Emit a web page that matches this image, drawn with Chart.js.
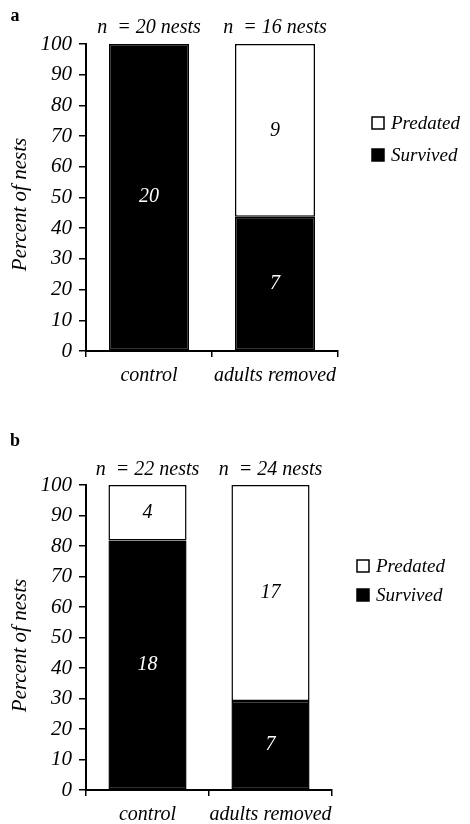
<!DOCTYPE html>
<html>
<head>
<meta charset="utf-8">
<script src="https://cdn.jsdelivr.net/npm/chart.js@4.4.1/dist/chart.umd.min.js"></script>
<style>
    html, body { margin: 0; padding: 0; background: #fff; }
    body { width: 470px; height: 824px; position: relative; overflow: hidden; }
    .panel { position: absolute; left: 0; width: 470px; }
    #panelA { top: 0; height: 400px; }
    #panelB { top: 420px; height: 404px; }
</style>
</head>
<body>
<div class="panel" id="panelA"><canvas id="chartA"></canvas></div>
<div class="panel" id="panelB"><canvas id="chartB"></canvas></div>
<script>
// data: nest counts per treatment
const categories = ['control', 'adults removed'];
const survivedA = [20, 7];
const predatedA = [0, 9];
const survivedB = [18, 7];
const predatedB = [4, 17];
const yTickLabels = [0, 10, 20, 30, 40, 50, 60, 70, 80, 90, 100];
const seriesNames = ['Survived', 'Predated'];

const SERIF = '"Liberation Serif", "DejaVu Serif", serif';

// counts -> percent of nests in each treatment
function toPercent(counts, other) {
    return counts.map((v, i) => v / (v + other[i]) * 100);
}

// panel letter, y title, n = ..., counts inside bars, legend
const panelDecor = {
    id: 'panelDecor',
    afterDraw(chart, args, opts) {
        const ctx = chart.ctx;
        const area = chart.chartArea;
        ctx.save();
        ctx.fillStyle = '#000';

        ctx.font = 'bold 18px ' + SERIF;
        ctx.textAlign = 'center';
        ctx.textBaseline = 'middle';
        ctx.fillText(opts.letter, opts.letterX, opts.letterY);

        // y axis title
        ctx.font = 'italic 21px ' + SERIF;
        ctx.save();
        ctx.translate(opts.titleX, (area.top + area.bottom) / 2 + opts.titleShift);
        ctx.rotate(-Math.PI / 2);
        ctx.fillText('Percent of nests', 0, 0);
        ctx.restore();

        const survMeta = chart.getDatasetMeta(0);
        const predMeta = chart.getDatasetMeta(1);
        ctx.font = 'italic 20px ' + SERIF;
        survMeta.data.forEach((bar, i) => {
            const total = opts.survived[i] + opts.predated[i];
            ctx.fillStyle = '#000';
            ctx.fillText('n  = ' + total + ' nests', bar.x, area.top - opts.nOffset);
        });
        ctx.font = 'italic 20px ' + SERIF;
        [[survMeta, opts.survived, '#fff'], [predMeta, opts.predated, '#000']].forEach(([meta, counts, col]) => {
            meta.data.forEach((bar, i) => {
                if (!counts[i]) return;
                ctx.fillStyle = col;
                ctx.fillText(String(counts[i]), bar.x, (bar.y + bar.base) / 2);
            });
        });

        // legend
        const items = [['Predated', '#fff'], ['Survived', '#000']];
        ctx.font = 'italic 19px ' + SERIF;
        ctx.textAlign = 'left';
        items.forEach(([name, fill], k) => {
            const cy = opts.legendY + k * opts.legendGap;
            ctx.fillStyle = fill;
            ctx.fillRect(opts.legendX, cy - 6, 12, 12);
            ctx.strokeStyle = '#000';
            ctx.lineWidth = 1.5;
            ctx.strokeRect(opts.legendX, cy - 6, 12, 12);
            ctx.fillStyle = '#000';
            ctx.fillText(name, opts.legendX + 19, cy + 1);
        });
        ctx.restore();
    }
};

function makePanel(canvasId, survived, predated, layout) {
    const ctx = document.getElementById(canvasId)?.getContext('2d');
    if (!ctx) {
        console.error('canvas not found: ' + canvasId);
        return null;
    }

    return new Chart(ctx, {
        type: 'bar',
        data: {
            labels: categories,
            datasets: [{
                label: seriesNames[0],
                data: toPercent(survived, predated),
                backgroundColor: '#000',
                borderColor: '#000',
                borderWidth: 1.5,
                borderSkipped: false,
                barPercentage: 0.635,
                categoryPercentage: 1
            }, {
                label: seriesNames[1],
                data: toPercent(predated, survived),
                backgroundColor: '#fff',
                borderColor: '#000',
                borderWidth: 1.5,
                borderSkipped: false,
                barPercentage: 0.635,
                categoryPercentage: 1
            }]
        },
        options: {
            responsive: true,
            maintainAspectRatio: false,
            animation: false,
            layout: {
                padding: { left: 0, top: layout.top, right: layout.right, bottom: 0 }
            },
            plugins: {
                legend: { display: false },
                tooltip: { enabled: false },
                panelDecor: Object.assign({ survived, predated }, layout)
            },
            scales: {
                x: {
                    stacked: true,
                    offset: true,
                    grid: {
                        offset: true,
                        drawOnChartArea: false,
                        color: '#000',
                        lineWidth: 1.5,
                        tickLength: 6
                    },
                    border: { color: '#000', width: 2 },
                    ticks: {
                        color: '#000',
                        padding: 7,
                        autoSkip: false,
                        maxRotation: 0,
                        minRotation: 0,
                        font: { family: SERIF, size: 20, style: 'italic' }
                    },
                    afterFit: s => { s.height = layout.xHeight; }
                },
                y: {
                    stacked: true,
                    min: yTickLabels[0],
                    max: yTickLabels[yTickLabels.length - 1],
                    afterBuildTicks: s => { s.ticks = yTickLabels.map(v => ({ value: v })); },
                    grid: {
                        drawOnChartArea: false,
                        color: '#000',
                        lineWidth: 1.5,
                        tickLength: 7
                    },
                    border: { color: '#000', width: 2 },
                    ticks: {
                        color: '#000',
                        padding: 7,
                        font: { family: SERIF, size: 21, style: 'italic' }
                    },
                    afterFit: s => { s.width = 86; }
                }
            }
        },
        plugins: [panelDecor]
    });
}

window.chartA = makePanel('chartA', survivedA, predatedA, {
    top: 44, right: 132, xHeight: 49,
    letter: 'a', letterX: 15, letterY: 16,
    titleX: 20, titleShift: 7, nOffset: 16,
    legendX: 372, legendY: 123, legendGap: 32
});

window.chartB = makePanel('chartB', survivedB, predatedB, {
    top: 65, right: 138, xHeight: 34,
    letter: 'b', letterX: 15, letterY: 21,
    titleX: 20, titleShift: 8, nOffset: 15,
    legendX: 357, legendY: 146, legendGap: 29
});
</script>
</body>
</html>
